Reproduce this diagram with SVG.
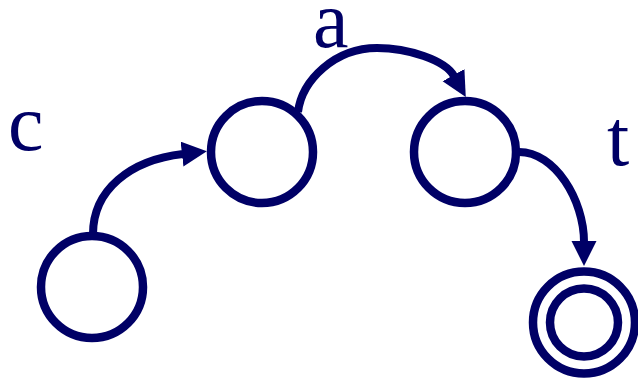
<svg xmlns="http://www.w3.org/2000/svg" width="638" height="378" viewBox="0 0 638 378">
<style>
.st{fill:none;stroke:#000066;stroke-width:8.5}
.ed{fill:none;stroke:#000066;stroke-width:8}
.lb{font-family:"Liberation Serif","Times New Roman",serif;font-size:80px;fill:#000066}
</style>
<defs>
<marker id="arr" markerUnits="userSpaceOnUse" markerWidth="26" markerHeight="26" refX="1" refY="12.5" orient="auto" viewBox="0 0 26 26">
<path d="M0,0 L25,12.5 L0,25 z" fill="#000066"/>
</marker>
</defs>
<rect width="638" height="378" fill="#ffffff"/>
<g id="edges">
<path class="ed" d="M93,234 C93,190 130,160 183,154" marker-end="url(#arr)"/>
<path class="ed" d="M298,112 C302,80 335,48 377,48 C408,48 445,60 454,76" marker-end="url(#arr)"/>
<path class="ed" d="M519,152 C555,152 584,200 584,242" marker-end="url(#arr)"/>
</g>
<g id="n1"><circle class="st" cx="92" cy="287" r="51"/></g>
<g id="n2"><circle class="st" cx="262" cy="152" r="51"/></g>
<g id="n3"><circle class="st" cx="465" cy="152" r="51"/></g>
<g id="n4"><circle class="st" cx="584" cy="322.5" r="51"/><circle class="st" cx="584" cy="322.5" r="34"/></g>
<g id="labels">
<text class="lb" x="8" y="150">c</text>
<text class="lb" x="313" y="47">a</text>
<text class="lb" x="607" y="165">t</text>
</g>
</svg>
